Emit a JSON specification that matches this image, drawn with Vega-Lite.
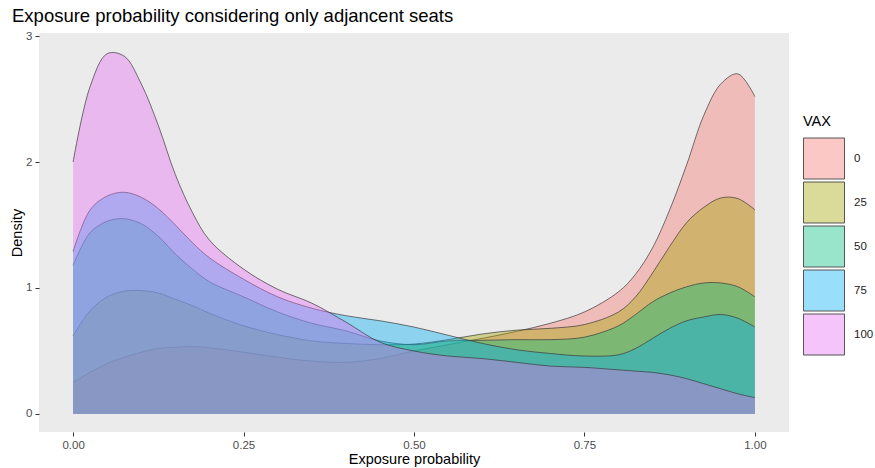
{
  "$schema": "https://vega.github.io/schema/vega-lite/v6.json",
  "width": 750,
  "height": 399,
  "autosize": "none",
  "padding": {"left": 39, "top": 33, "right": 86, "bottom": 36},
  "background": "white",
  "title": {
    "text": "Exposure probability considering only adjancent seats",
    "anchor": "start",
    "frame": "group",
    "dx": -27,
    "offset": 5,
    "fontSize": 18.5,
    "fontWeight": "normal",
    "font": "Liberation Sans",
    "color": "#000000"
  },
  "config": {
    "font": "Liberation Sans",
    "view": {"fill": "#EBEBEB", "stroke": null},
    "axis": {
      "grid": false,
      "domain": false,
      "tickColor": "#333333",
      "tickSize": 4,
      "labelColor": "#4D4D4D",
      "labelFontSize": 11.5,
      "titleFontSize": 14.5,
      "titleFontWeight": "normal",
      "titleColor": "#000000",
      "labelFont": "Liberation Sans",
      "titleFont": "Liberation Sans"
    }
  },
  "data": {
    "values": [
      {"VAX": "0", "x": 0, "d": 0.25}, {"VAX": "0", "x": 0.025, "d": 0.33}, {"VAX": "0", "x": 0.05, "d": 0.40}, {"VAX": "0", "x": 0.075, "d": 0.45}, {"VAX": "0", "x": 0.1, "d": 0.49}, {"VAX": "0", "x": 0.125, "d": 0.52}, {"VAX": "0", "x": 0.15, "d": 0.53}, {"VAX": "0", "x": 0.175, "d": 0.535}, {"VAX": "0", "x": 0.2, "d": 0.525}, {"VAX": "0", "x": 0.25, "d": 0.49}, {"VAX": "0", "x": 0.3, "d": 0.45}, {"VAX": "0", "x": 0.35, "d": 0.42}, {"VAX": "0", "x": 0.4, "d": 0.41}, {"VAX": "0", "x": 0.45, "d": 0.44}, {"VAX": "0", "x": 0.5, "d": 0.50}, {"VAX": "0", "x": 0.55, "d": 0.55}, {"VAX": "0", "x": 0.6, "d": 0.60}, {"VAX": "0", "x": 0.65, "d": 0.655}, {"VAX": "0", "x": 0.7, "d": 0.72}, {"VAX": "0", "x": 0.75, "d": 0.81}, {"VAX": "0", "x": 0.8, "d": 0.97}, {"VAX": "0", "x": 0.825, "d": 1.11}, {"VAX": "0", "x": 0.85, "d": 1.32}, {"VAX": "0", "x": 0.875, "d": 1.62}, {"VAX": "0", "x": 0.9, "d": 1.98}, {"VAX": "0", "x": 0.925, "d": 2.37}, {"VAX": "0", "x": 0.95, "d": 2.62}, {"VAX": "0", "x": 0.975, "d": 2.70}, {"VAX": "0", "x": 1.0, "d": 2.52},

      {"VAX": "25", "x": 0, "d": 0.62}, {"VAX": "25", "x": 0.025, "d": 0.82}, {"VAX": "25", "x": 0.05, "d": 0.93}, {"VAX": "25", "x": 0.075, "d": 0.975}, {"VAX": "25", "x": 0.1, "d": 0.98}, {"VAX": "25", "x": 0.125, "d": 0.96}, {"VAX": "25", "x": 0.15, "d": 0.91}, {"VAX": "25", "x": 0.175, "d": 0.86}, {"VAX": "25", "x": 0.2, "d": 0.80}, {"VAX": "25", "x": 0.25, "d": 0.70}, {"VAX": "25", "x": 0.3, "d": 0.63}, {"VAX": "25", "x": 0.35, "d": 0.58}, {"VAX": "25", "x": 0.4, "d": 0.56}, {"VAX": "25", "x": 0.45, "d": 0.55}, {"VAX": "25", "x": 0.5, "d": 0.555}, {"VAX": "25", "x": 0.55, "d": 0.59}, {"VAX": "25", "x": 0.6, "d": 0.635}, {"VAX": "25", "x": 0.65, "d": 0.665}, {"VAX": "25", "x": 0.7, "d": 0.68}, {"VAX": "25", "x": 0.75, "d": 0.71}, {"VAX": "25", "x": 0.8, "d": 0.81}, {"VAX": "25", "x": 0.825, "d": 0.93}, {"VAX": "25", "x": 0.85, "d": 1.12}, {"VAX": "25", "x": 0.875, "d": 1.33}, {"VAX": "25", "x": 0.9, "d": 1.52}, {"VAX": "25", "x": 0.925, "d": 1.64}, {"VAX": "25", "x": 0.95, "d": 1.715}, {"VAX": "25", "x": 0.975, "d": 1.71}, {"VAX": "25", "x": 1.0, "d": 1.62},

      {"VAX": "50", "x": 0, "d": 1.18}, {"VAX": "50", "x": 0.025, "d": 1.44}, {"VAX": "50", "x": 0.05, "d": 1.53}, {"VAX": "50", "x": 0.075, "d": 1.55}, {"VAX": "50", "x": 0.1, "d": 1.51}, {"VAX": "50", "x": 0.125, "d": 1.41}, {"VAX": "50", "x": 0.15, "d": 1.27}, {"VAX": "50", "x": 0.175, "d": 1.15}, {"VAX": "50", "x": 0.2, "d": 1.05}, {"VAX": "50", "x": 0.25, "d": 0.93}, {"VAX": "50", "x": 0.3, "d": 0.81}, {"VAX": "50", "x": 0.35, "d": 0.72}, {"VAX": "50", "x": 0.4, "d": 0.66}, {"VAX": "50", "x": 0.45, "d": 0.58}, {"VAX": "50", "x": 0.5, "d": 0.55}, {"VAX": "50", "x": 0.55, "d": 0.58}, {"VAX": "50", "x": 0.6, "d": 0.585}, {"VAX": "50", "x": 0.65, "d": 0.59}, {"VAX": "50", "x": 0.7, "d": 0.59}, {"VAX": "50", "x": 0.75, "d": 0.61}, {"VAX": "50", "x": 0.8, "d": 0.70}, {"VAX": "50", "x": 0.825, "d": 0.79}, {"VAX": "50", "x": 0.85, "d": 0.89}, {"VAX": "50", "x": 0.875, "d": 0.96}, {"VAX": "50", "x": 0.9, "d": 1.01}, {"VAX": "50", "x": 0.925, "d": 1.04}, {"VAX": "50", "x": 0.95, "d": 1.04}, {"VAX": "50", "x": 0.975, "d": 1.01}, {"VAX": "50", "x": 1.0, "d": 0.93},

      {"VAX": "75", "x": 0, "d": 1.29}, {"VAX": "75", "x": 0.025, "d": 1.62}, {"VAX": "75", "x": 0.05, "d": 1.73}, {"VAX": "75", "x": 0.075, "d": 1.76}, {"VAX": "75", "x": 0.1, "d": 1.72}, {"VAX": "75", "x": 0.125, "d": 1.63}, {"VAX": "75", "x": 0.15, "d": 1.50}, {"VAX": "75", "x": 0.175, "d": 1.36}, {"VAX": "75", "x": 0.2, "d": 1.24}, {"VAX": "75", "x": 0.25, "d": 1.07}, {"VAX": "75", "x": 0.3, "d": 0.93}, {"VAX": "75", "x": 0.35, "d": 0.84}, {"VAX": "75", "x": 0.4, "d": 0.78}, {"VAX": "75", "x": 0.45, "d": 0.74}, {"VAX": "75", "x": 0.5, "d": 0.69}, {"VAX": "75", "x": 0.55, "d": 0.625}, {"VAX": "75", "x": 0.6, "d": 0.56}, {"VAX": "75", "x": 0.65, "d": 0.51}, {"VAX": "75", "x": 0.7, "d": 0.48}, {"VAX": "75", "x": 0.75, "d": 0.46}, {"VAX": "75", "x": 0.8, "d": 0.47}, {"VAX": "75", "x": 0.825, "d": 0.52}, {"VAX": "75", "x": 0.85, "d": 0.60}, {"VAX": "75", "x": 0.875, "d": 0.68}, {"VAX": "75", "x": 0.9, "d": 0.74}, {"VAX": "75", "x": 0.925, "d": 0.77}, {"VAX": "75", "x": 0.95, "d": 0.79}, {"VAX": "75", "x": 0.975, "d": 0.76}, {"VAX": "75", "x": 1.0, "d": 0.69},

      {"VAX": "100", "x": 0, "d": 2.00}, {"VAX": "100", "x": 0.025, "d": 2.60}, {"VAX": "100", "x": 0.05, "d": 2.86}, {"VAX": "100", "x": 0.075, "d": 2.84}, {"VAX": "100", "x": 0.1, "d": 2.62}, {"VAX": "100", "x": 0.125, "d": 2.29}, {"VAX": "100", "x": 0.15, "d": 1.90}, {"VAX": "100", "x": 0.175, "d": 1.60}, {"VAX": "100", "x": 0.2, "d": 1.38}, {"VAX": "100", "x": 0.25, "d": 1.15}, {"VAX": "100", "x": 0.3, "d": 0.99}, {"VAX": "100", "x": 0.35, "d": 0.88}, {"VAX": "100", "x": 0.4, "d": 0.73}, {"VAX": "100", "x": 0.45, "d": 0.57}, {"VAX": "100", "x": 0.5, "d": 0.50}, {"VAX": "100", "x": 0.55, "d": 0.46}, {"VAX": "100", "x": 0.6, "d": 0.44}, {"VAX": "100", "x": 0.65, "d": 0.41}, {"VAX": "100", "x": 0.7, "d": 0.38}, {"VAX": "100", "x": 0.75, "d": 0.37}, {"VAX": "100", "x": 0.8, "d": 0.35}, {"VAX": "100", "x": 0.825, "d": 0.34}, {"VAX": "100", "x": 0.85, "d": 0.33}, {"VAX": "100", "x": 0.875, "d": 0.31}, {"VAX": "100", "x": 0.9, "d": 0.28}, {"VAX": "100", "x": 0.925, "d": 0.24}, {"VAX": "100", "x": 0.95, "d": 0.20}, {"VAX": "100", "x": 0.975, "d": 0.16}, {"VAX": "100", "x": 1.0, "d": 0.13}
    ]
  },
  "encoding": {
    "x": {
      "field": "x", "type": "quantitative",
      "scale": {"domain": [-0.05, 1.05], "nice": false, "zero": false},
      "axis": {"values": [0, 0.25, 0.5, 0.75, 1], "format": ".2f", "title": "Exposure probability", "titlePadding": 2, "labelPadding": 3}
    },
    "y": {
      "field": "d", "type": "quantitative",
      "scale": {"domain": [-0.143, 3.024], "nice": false, "zero": false},
      "axis": {"values": [0, 1, 2, 3], "title": "Density", "titlePadding": 1, "labelPadding": 3}
    }
  },
  "layer": [
    {"transform": [{"filter": "datum.VAX === '0'"}], "mark": {"type": "area", "interpolate": "catmull-rom", "fillOpacity": 0.4}, "encoding": {"color": {"field": "VAX", "type": "nominal", "scale": {"domain": ["0", "25", "50", "75", "100"], "range": ["#F8766D", "#A3A500", "#00BF7D", "#00B0F6", "#E76BF3"]}, "legend": {"title": "VAX", "orient": "none", "legendX": 764, "legendY": 82, "symbolType": "square", "symbolSize": 1681, "rowPadding": -3, "labelOffset": 9, "labelFontSize": 11.5, "labelColor": "#222222", "titleFontSize": 14.5, "titleFontWeight": "normal", "titleColor": "#000000", "titlePadding": 8, "symbolStrokeColor": "#555555", "symbolStrokeWidth": 1, "encode": {"symbols": {"update": {"fillOpacity": {"value": 0.4}, "strokeOpacity": {"value": 1}, "stroke": {"value": "#555555"}}}}}}}},
    {"transform": [{"filter": "datum.VAX === '0'"}], "mark": {"type": "line", "interpolate": "catmull-rom", "color": "#3a3a3a", "strokeWidth": 0.7}},
    {"transform": [{"filter": "datum.VAX === '25'"}], "mark": {"type": "area", "interpolate": "catmull-rom", "fillOpacity": 0.4}, "encoding": {"color": {"field": "VAX", "type": "nominal"}}},
    {"transform": [{"filter": "datum.VAX === '25'"}], "mark": {"type": "line", "interpolate": "catmull-rom", "color": "#3a3a3a", "strokeWidth": 0.7}},
    {"transform": [{"filter": "datum.VAX === '50'"}], "mark": {"type": "area", "interpolate": "catmull-rom", "fillOpacity": 0.4}, "encoding": {"color": {"field": "VAX", "type": "nominal"}}},
    {"transform": [{"filter": "datum.VAX === '50'"}], "mark": {"type": "line", "interpolate": "catmull-rom", "color": "#3a3a3a", "strokeWidth": 0.7}},
    {"transform": [{"filter": "datum.VAX === '75'"}], "mark": {"type": "area", "interpolate": "catmull-rom", "fillOpacity": 0.4}, "encoding": {"color": {"field": "VAX", "type": "nominal"}}},
    {"transform": [{"filter": "datum.VAX === '75'"}], "mark": {"type": "line", "interpolate": "catmull-rom", "color": "#3a3a3a", "strokeWidth": 0.7}},
    {"transform": [{"filter": "datum.VAX === '100'"}], "mark": {"type": "area", "interpolate": "catmull-rom", "fillOpacity": 0.4}, "encoding": {"color": {"field": "VAX", "type": "nominal"}}},
    {"transform": [{"filter": "datum.VAX === '100'"}], "mark": {"type": "line", "interpolate": "catmull-rom", "color": "#3a3a3a", "strokeWidth": 0.7}}
  ]
}
